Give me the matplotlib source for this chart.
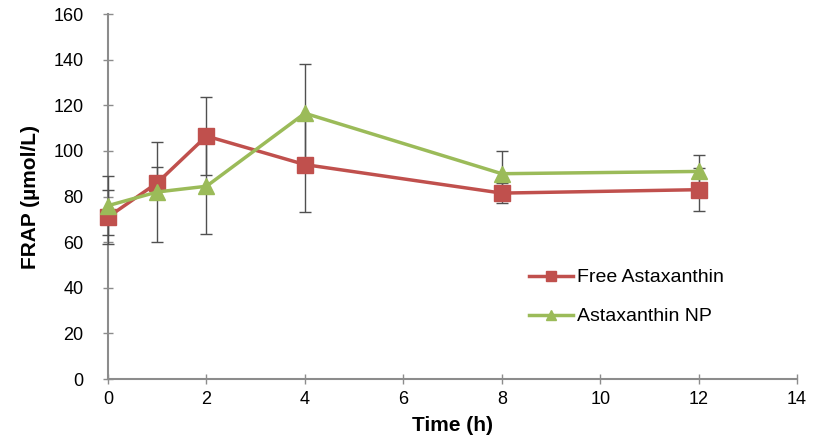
import numpy as np
import matplotlib.pyplot as plt

plt.rcParams['font.family'] = ['Liberation Sans', 'DejaVu Sans']

# data
time_h = [0, 1, 2, 4, 8, 12]
free_asta = [71, 86, 106.5, 94, 81.5, 83]
free_err = [12, 7, 17, 21, 4.5, 9.5]
asta_np = [76, 82, 84.5, 116.5, 90, 91]
np_err = [13, 22, 21, 21.5, 10, 7]

red = '#C0504D'
green = '#9BBB59'
axis_grey = '#8C8C8C'

fig = plt.figure(figsize=(8.14, 4.4), dpi=100)
ax = fig.add_axes([0.1327, 0.1386, 0.8465, 0.8295])

handles = []
for y, err, col, mk, lab in [(free_asta, free_err, red, 's', 'Free Astaxanthin'),
                             (asta_np, np_err, green, '^', 'Astaxanthin NP')]:
    cont = ax.errorbar(time_h, y, yerr=err, color=col, lw=2.5,
                       marker=mk, ms=11, mec=col, ecolor='#505050',
                       elinewidth=1, capsize=4, capthick=1, label=lab,
                       zorder=3)
    arts = [cont.lines[0]] + list(cont.lines[1]) + list(cont.lines[2])
    for art in arts:
        art.set_clip_on(False)
    handles.append(cont.lines[0])

ax.set_xlim(0, 14)
ax.set_ylim(0, 160)
ax.set_xticks(np.arange(0, 15, 2))
ax.set_yticks(np.arange(0, 161, 20))

for s in ['top', 'right']:
    ax.spines[s].set_visible(False)
for s in ['left', 'bottom']:
    ax.spines[s].set_color(axis_grey)
    ax.spines[s].set_linewidth(1.5)
ax.tick_params(direction='inout', length=7, width=1, color=axis_grey,
               labelsize=13)
ax.tick_params(axis='y', pad=14)
ax.tick_params(axis='x', pad=5)

ax.set_xlabel('Time (h)', fontsize=15, fontweight='bold', labelpad=6)
ax.set_ylabel('FRAP (µmol/L)', fontsize=15, fontweight='bold', labelpad=10)

leg = ax.legend(handles=handles, labels=['Free Astaxanthin', 'Astaxanthin NP'],
                loc='upper left', bbox_to_anchor=(0.585, 0.35), frameon=False,
                fontsize=14, handlelength=2.3, handletextpad=0.2,
                labelspacing=1.1, markerscale=0.7)

fig.savefig('out.png', dpi=100)
